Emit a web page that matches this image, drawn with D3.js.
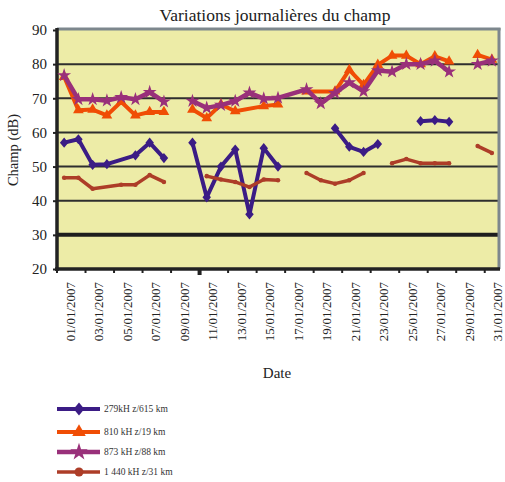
<!DOCTYPE html>
<html><head><meta charset="utf-8">
<script src="https://cdn.jsdelivr.net/npm/d3@7"></script>
<style>
body{margin:0;background:#fff}
svg{display:block}
svg text{font-family:"Liberation Serif","DejaVu Serif",serif !important}
</style>
</head><body><svg id="c" width="505" height="482"></svg>
<script>
// ---------- data ----------
const days = [1,2,3,4,5,6,7,8,9,10,11,12,13,14,15,16,17,18,19,20,21,22,23,24,25,26,27,28,29,30,31];
const tickLabels = ["01/01/2007","03/01/2007","05/01/2007","07/01/2007","09/01/2007","11/01/2007",
  "13/01/2007","15/01/2007","17/01/2007","19/01/2007","21/01/2007","23/01/2007","25/01/2007",
  "27/01/2007","29/01/2007","31/01/2007"];
const labelDays = [1,3,5,7,9,11,13,15,17,19,21,23,25,27,29,31];
const yTicks = [20,30,40,50,60,70,80,90];

const seriesNames = ["279kH z/615 km","810 kH z/19 km","873 kH z/88 km","1 440 kH z/31 km"];
// null = no measurement (line breaks)
const s279  = [57,58,50.5,50.7,null,53.3,57,52.5,null,57,41,50,55,36,55.4,50,null,null,null,61.2,55.8,54.3,56.6,null,null,63.3,63.6,63.1,null,null,null];
const s810  = [76.3,66.5,66.7,65,69,65,66,66,null,66.7,64.2,68.2,66.2,null,67.7,68.2,null,72,null,72,78.3,73.9,79.8,82.5,82.5,80,82.3,80.8,null,82.7,81.3];
const s873  = [76.7,69.7,69.7,69.3,70.3,69.7,71.8,69,null,69.2,67.2,68,69.2,71.6,69.9,70.1,null,72.6,68.5,71.5,74.6,72,78.1,77.8,80,80,81,77.8,null,80,81];
const s1440 = [46.7,46.7,43.5,null,44.7,44.7,47.5,45.5,null,null,47.2,46.2,45.5,44,46.2,46,null,48.1,46,45,46,48.1,null,51,52.2,51,51,51,null,56,54];
// days without a value where the line is still drawn across
const bridge279 = [5], bridge810 = [14,19], bridge873 = [17], bridge1440 = [4];

const seriesValues = [s279, s810, s873, s1440];
const seriesBridges = [bridge279, bridge810, bridge873, bridge1440];
const colors = ["#3b1c85","#f04d05","#99307a","#ad3d28"];
const widths = [4,4,4.5,3.5];
const FONT = '"Liberation Serif","DejaVu Serif",serif';

// ---------- layout ----------
const svg = d3.select("#c");
const L = 57, R = 499, T = 30, B = 269;
const x = d3.scaleBand().domain(days).range([L, R]);
const cx = d => x(d) + x.bandwidth()/2;
const y = d3.scaleLinear().domain([20, 90]).range([B, T]);

svg.append("rect").attr("x", L).attr("y", T).attr("width", R-L).attr("height", B-T).attr("fill", "#edeca7");

svg.append("g").selectAll("line").data(yTicks.filter(v => v > 20 && v < 90)).join("line")
  .attr("x1", L).attr("x2", R).attr("y1", d => y(d)).attr("y2", d => y(d))
  .attr("stroke", d => d === 30 ? "#1e1e1e" : "#2e2e2e")
  .attr("stroke-width", d => d === 30 ? 4 : 2);

svg.append("line").attr("x1", L).attr("x2", R+1.5).attr("y1", T-1).attr("y2", T-1).attr("stroke", "#7d878d").attr("stroke-width", 3);
svg.append("line").attr("x1", R).attr("x2", R).attr("y1", T-2).attr("y2", B).attr("stroke", "#7d878d").attr("stroke-width", 3);

const yAxis = svg.append("g").attr("transform", `translate(${L},0)`)
  .call(d3.axisLeft(y).tickValues(yTicks).tickSize(4).tickPadding(6).tickFormat(d3.format("d")));
yAxis.attr("font-family", FONT);
yAxis.select(".domain").remove();
yAxis.selectAll(".tick line").attr("stroke", "#222").attr("stroke-width", 2);
yAxis.selectAll("text").attr("font-size", 15).attr("fill", "#222").style("font-family", FONT);
svg.append("line").attr("x1", L).attr("x2", L).attr("y1", T-2).attr("y2", B+2).attr("stroke", "#222").attr("stroke-width", 3.5);

const tickPos = d3.range(0, 16).map(k => L + 2*k*x.bandwidth());
svg.append("g").selectAll("line").data(tickPos).join("line")
  .attr("x1", d => d).attr("x2", d => d).attr("y1", B).attr("y2", (d,i) => i === 5 ? B+6 : B+4)
  .attr("stroke", "#222").attr("stroke-width", (d,i) => i === 5 ? 4 : 2);
svg.append("line").attr("x1", L-2).attr("x2", R+1).attr("y1", B).attr("y2", B).attr("stroke", "#222").attr("stroke-width", 3.5);

svg.append("g").selectAll("text").data(labelDays).join("text")
  .attr("transform", (d) => `translate(${Math.min(cx(d)+6, 497)},${B+13}) rotate(-90)`)
  .attr("text-anchor", "end").attr("dy", "0.35em")
  .attr("font-size", 13).attr("fill", "#222").style("font-family", FONT)
  .text((d,i) => tickLabels[i]);

svg.append("text").attr("x", 275).attr("y", 21).attr("text-anchor", "middle").attr("font-size", 17.5).attr("fill", "#222").style("font-family", FONT).text("Variations journalières du champ");
svg.append("text").attr("transform", "translate(18,150) rotate(-90)").attr("text-anchor", "middle").attr("font-size", 14.5).attr("fill", "#222").style("font-family", FONT).text("Champ (dB)");
svg.append("text").attr("x", 277).attr("y", 378).attr("text-anchor", "middle").attr("font-size", 15).attr("fill", "#222").style("font-family", FONT).text("Date");

// ---------- series ----------
function segments(vals, bridge) {
  const pts = days.map((d,i) => ({d, v: vals[i]})).filter(p => p.v != null);
  const segs = [];
  let cur = [];
  pts.forEach((p, i) => {
    if (i > 0) {
      const prev = pts[i-1];
      let connected = true;
      for (let k = prev.d + 1; k < p.d; k++) if (!bridge.includes(k)) connected = false;
      if (!connected) { segs.push(cur); cur = []; }
    }
    cur.push(p);
  });
  if (cur.length) segs.push(cur);
  return {segs, pts};
}
const markers = [
  {type: d3.symbolSquare, size: 36, tf: "rotate(45)", sy: 1.2},
  {type: d3.symbolTriangle, size: 50, tf: "", sy: 1},
  {type: d3.symbolStar, size: 60, tf: "", sy: 1},
  {type: d3.symbolCircle, size: 16, tf: "", sy: 1}
];
const line = d3.line().x(p => cx(p.d)).y(p => y(p.v));

function drawMarker(g, i, px, py, scale) {
  const m = markers[i];
  g.append("path")
    .attr("d", d3.symbol().type(m.type).size(m.size * (scale||1))())
    .attr("transform", `translate(${px},${py}) scale(1,${m.sy}) ${m.tf}`)
    .attr("fill", colors[i]);
}

[0,1,2,3].forEach(i => {
  const g = svg.append("g");
  const {segs, pts} = segments(seriesValues[i], seriesBridges[i]);
  segs.forEach(s => {
    g.append("path").attr("d", line(s)).attr("fill", "none")
      .attr("stroke", colors[i]).attr("stroke-width", widths[i])
      .attr("stroke-linejoin", "round").attr("stroke-linecap", "butt");
  });
  pts.forEach(p => drawMarker(g, i, cx(p.d), y(p.v)));
});

// ---------- legend ----------
const legY = [409, 432, 452, 472];
seriesNames.forEach((name, i) => {
  const g = svg.append("g");
  g.append("line").attr("x1", 57).attr("x2", 100).attr("y1", legY[i]).attr("y2", legY[i])
    .attr("stroke", colors[i]).attr("stroke-width", widths[i]);
  drawMarker(g, i, 79, legY[i], i === 3 ? 4 : 1.6);
  g.append("text").attr("x", 104).attr("y", legY[i]).attr("dy", "0.35em")
    .attr("font-size", 9.5).attr("fill", "#333").style("font-family", FONT).text(name);
});
</script>
</body></html>
